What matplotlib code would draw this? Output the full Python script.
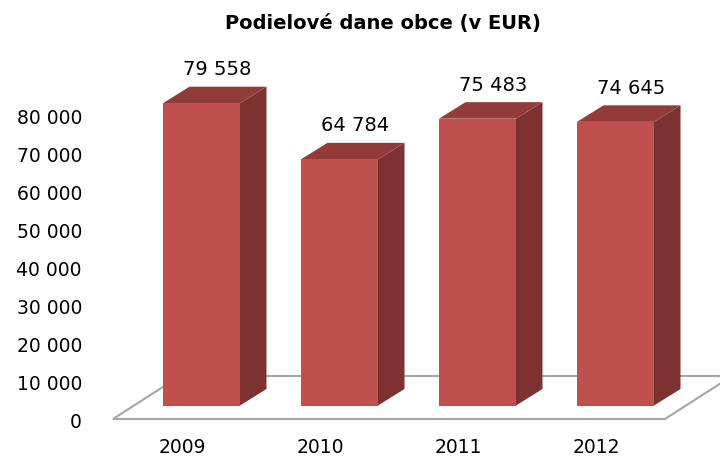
import matplotlib
matplotlib.use("Agg")
import matplotlib.pyplot as plt
from matplotlib.patches import Polygon
from matplotlib.transforms import ScaledTranslation

years = ['2009', '2010', '2011', '2012']
values = [79558, 64784, 75483, 74645]
ticks = [0, 10000, 20000, 30000, 40000, 50000, 60000, 70000, 80000]

front_col = '#C0504D'
side_col = '#7D3130'
top_col = '#923B38'

fig = plt.figure(figsize=(7.2, 4.57), dpi=100)
# axes spans pixels x 100..720, y 40..419 (image coords)
ax = fig.add_axes([100 / 720, (457 - 419) / 457, 620 / 720, (419 - 40) / 457])

px_x = 138.0       # pixels per category
px_v = 0.0038      # pixels per EUR
ax.set_xlim((100 - 182) / px_x, (720 - 182) / px_x)
ax.set_ylim((405.5 - 419) / px_v, (405.5 - 40) / px_v)

# 3D look: depth offsets
ddx = 26.5 / px_x
ddy = 16.5 / px_v
w = 77 / px_x
shift = 19.5 / px_x

# floor
f0 = -13.5 / px_v
fdx = 67 / px_x
fdy = 43 / px_v
n = len(years)
floor = Polygon([(-0.5, f0), (n - 0.5, f0), (n - 0.5 + fdx, f0 + fdy), (-0.5 + fdx, f0 + fdy)],
                closed=True, facecolor='white', edgecolor='#A6A6A6', lw=1.5, clip_on=False, zorder=1)
ax.add_patch(floor)

xs = [i + shift for i in range(n)]
ax.bar(xs, values, width=w, color=front_col, zorder=3)
for x, v in zip(xs, values):
    x0 = x - w / 2
    x1 = x + w / 2
    side = Polygon([(x1, 0), (x1 + ddx, ddy), (x1 + ddx, v + ddy), (x1, v)],
                   closed=True, facecolor=side_col, edgecolor='none', zorder=2)
    top = Polygon([(x0, v), (x1, v), (x1 + ddx, v + ddy), (x0 + ddx, v + ddy)],
                  closed=True, facecolor=top_col, edgecolor='none', zorder=2)
    ax.add_patch(side)
    ax.add_patch(top)
    ax.text(x + ddx / 2 + 2 / px_x, v + ddy + 17 / px_v, f'{v:,}'.replace(',', ' '),
            ha='center', va='center', fontsize=14, color='black')

for s in ax.spines.values():
    s.set_visible(False)

ax.set_xticks(range(n))
ax.set_xticklabels(years, fontsize=13.5)
ax.set_yticks(ticks)
ax.set_yticklabels([f'{t:,}'.replace(',', ' ') for t in ticks], fontsize=13.5)
ax.tick_params(axis='both', length=0)
ax.tick_params(axis='y', pad=13)
ax.tick_params(axis='x', pad=14)
off = ScaledTranslation(0, -0.15, fig.dpi_scale_trans)
for lab in ax.get_yticklabels():
    lab.set_transform(lab.get_transform() + off)

fig.text(383 / 720, 1 - 23 / 457, 'Podielové dane obce (v EUR)', ha='center', va='center',
         fontsize=14, fontweight='bold')

fig.savefig('out.png', dpi=100)
